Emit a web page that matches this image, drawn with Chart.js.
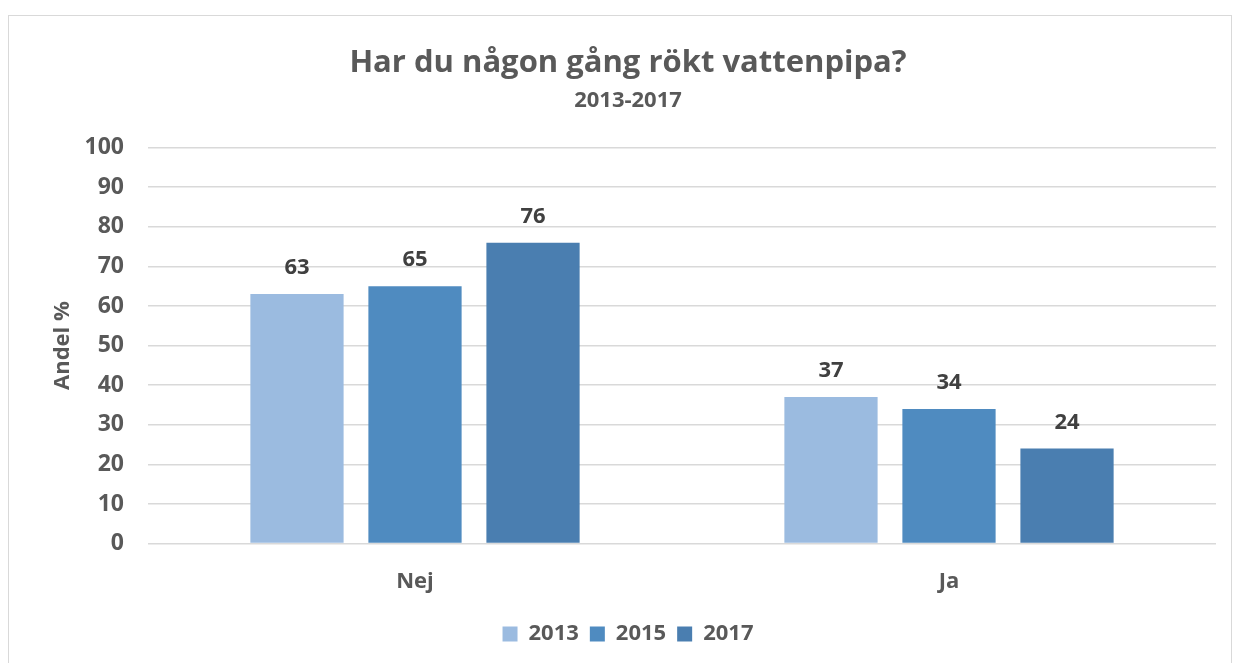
<!DOCTYPE html>
<html lang="sv">
<head>
    <meta charset="UTF-8">
    <title>Har du någon gång rökt vattenpipa?</title>
    <style>
        body {
            margin: 0;
            padding: 0;
            background-color: #fff;
            width: 1236px;
            height: 663px;
            overflow: hidden;
            position: relative;
        }

        .frame {
            position: absolute;
            left: 8px;
            top: 15px;
            width: 1222px;
            height: 680px;
            border: 1px solid #d9d9d9;
        }

        #chart {
            position: absolute;
            left: 0;
            top: 0;
        }
    </style>
</head>
<body>
    <div class="frame"></div>
    <canvas id="chart" width="1236" height="663"></canvas>

    <script src="https://cdn.jsdelivr.net/npm/chart.js"></script>
    <script>
        const categories = ['Nej', 'Ja'];
        const years = ['2013', '2015', '2017'];
        const values2013 = [63, 37];
        const values2015 = [65, 34];
        const values2017 = [76, 24];
        const yearColors = ['#9bbbe0', '#4f8bc0', '#4a7eb0'];

        const fontFamily = "'Open Sans', sans-serif";
        const textColor = '#595959';

        // value labels above each bar
        const barLabels = {
            id: 'barLabels',
            afterDatasetsDraw(chart) {
                const ctx = chart.ctx;
                ctx.save();
                ctx.font = 'bold 22px ' + fontFamily;
                ctx.fillStyle = '#404040';
                ctx.textAlign = 'center';
                ctx.textBaseline = 'middle';
                chart.data.datasets.forEach((ds, i) => {
                    chart.getDatasetMeta(i).data.forEach((bar, j) => {
                        ctx.fillText(ds.data[j], bar.x, bar.y - 26);
                    });
                });
                ctx.restore();
            }
        };

        new Chart(document.getElementById('chart'), {
            type: 'bar',
            data: {
                labels: categories,
                datasets: [
                    { label: years[0], data: values2013, backgroundColor: yearColors[0] },
                    { label: years[1], data: values2015, backgroundColor: yearColors[1] },
                    { label: years[2], data: values2017, backgroundColor: yearColors[2] }
                ]
            },
            options: {
                responsive: false,
                animation: false,
                events: [],
                categoryPercentage: 0.663,
                barPercentage: 0.79,
                layout: {
                    padding: { left: 40, right: 20, top: 0, bottom: 8 }
                },
                plugins: {
                    title: {
                        display: true,
                        text: 'Har du någon gång rökt vattenpipa?',
                        color: textColor,
                        font: { family: fontFamily, size: 31, weight: 'bold', lineHeight: 1.2 },
                        padding: { top: 45, bottom: 2 }
                    },
                    subtitle: {
                        display: true,
                        text: '2013-2017',
                        color: textColor,
                        font: { family: fontFamily, size: 22, weight: 'bold', lineHeight: 1.2 },
                        padding: { top: 3, bottom: 34 }
                    },
                    legend: {
                        position: 'bottom',
                        labels: {
                            color: textColor,
                            boxWidth: 15,
                            boxHeight: 15,
                            padding: 11,
                            font: { family: fontFamily, size: 22, weight: 'bold' }
                        }
                    },
                    tooltip: { enabled: false }
                },
                scales: {
                    x: {
                        grid: { display: false },
                        border: { display: false },
                        ticks: {
                            color: textColor,
                            padding: 17,
                            font: { family: fontFamily, size: 22, weight: 'bold' }
                        }
                    },
                    y: {
                        min: 0,
                        max: 100,
                        border: { display: false },
                        grid: { color: '#d9d9d9', lineWidth: 1.5, drawTicks: false },
                        ticks: {
                            stepSize: 10,
                            color: textColor,
                            padding: 24,
                            font: { family: fontFamily, size: 23, weight: 'bold' }
                        },
                        title: {
                            display: true,
                            text: 'Andel %',
                            color: textColor,
                            padding: { top: 10, bottom: 0 },
                            font: { family: fontFamily, size: 22, weight: 'bold' }
                        },
                        afterFit(scale) {
                            scale.width = 108;
                        }
                    }
                }
            },
            plugins: [barLabels]
        });
    </script>
</body>
</html>
